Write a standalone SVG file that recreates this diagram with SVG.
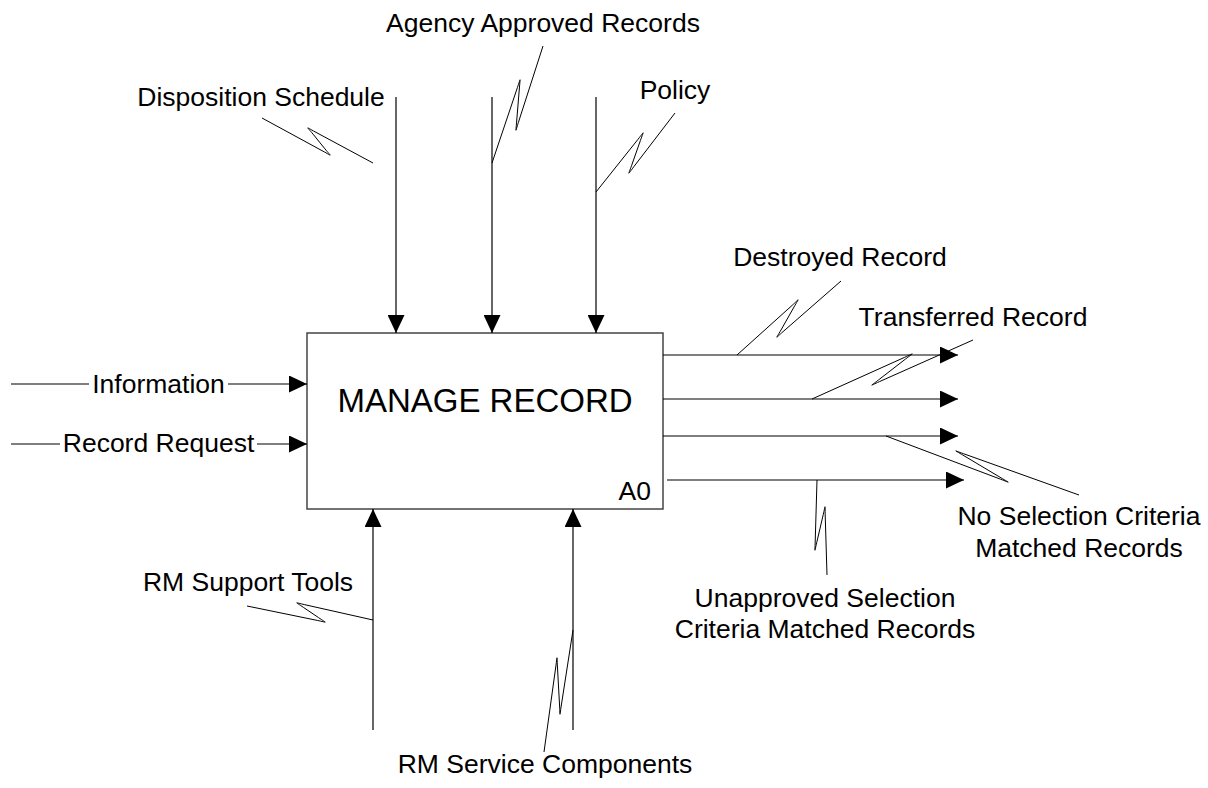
<svg xmlns="http://www.w3.org/2000/svg" width="1208" height="788" viewBox="0 0 1208 788">
<defs>
<marker id="ah" markerUnits="userSpaceOnUse" markerWidth="18" markerHeight="17" refX="18" refY="8.5" orient="auto">
<path d="M0,0 L18,8.5 L0,17 z" fill="#000"/>
</marker>
<style>
.lbl{font-family:"Liberation Sans",Arial,sans-serif;font-size:26.5px;fill:#000;text-anchor:middle}
.title{font-family:"Liberation Sans",Arial,sans-serif;font-size:33px;fill:#000;text-anchor:middle}
.arr{fill:none;stroke:#000;stroke-width:1.2;marker-end:url(#ah)}
.ln{fill:none;stroke:#000;stroke-width:1.2}
.sq{fill:none;stroke:#000;stroke-width:1;stroke-linejoin:round}
</style>
</defs>
<rect width="1208" height="788" fill="#fff"/>
<g id="node-a0">
<rect x="307" y="333" width="356" height="176" fill="#fff" stroke="#444" stroke-width="1.5"/>
<text class="title" x="485" y="412">MANAGE RECORD</text>
<text class="lbl" x="651" y="500" style="text-anchor:end">A0</text>
</g>
<g id="connectors">
<path class="ln" d="M11 384 H89"/>
<path class="arr" d="M228 384 H307"/>
<path class="ln" d="M11 444 H60"/>
<path class="arr" d="M257 444 H307"/>
<path class="arr" d="M396 97 V333"/>
<path class="arr" d="M492 97 V333"/>
<path class="arr" d="M596 97 V333"/>
<path class="arr" d="M373 730 V509"/>
<path class="arr" d="M573 730 V509"/>
<path class="arr" d="M663 355 H958"/>
<path class="arr" d="M663 399 H958"/>
<path class="arr" d="M663 436 H958"/>
<path class="arr" d="M667 480 H964"/>
</g>
<g id="squiggles">
<path class="sq" d="M262 118 L323 151.2 C332.6 156.4 331.9 157.3 324.9 148.8 L313.1 134.2 C306.1 125.7 305.4 126.6 315 131.8 L373 163"/>
<path class="sq" d="M543 46 L518.4 122.4 C515.1 132.9 515.8 133 516.6 122 L519.4 88 C520.2 77 521 77.2 517.4 87.6 L492 163"/>
<path class="sq" d="M675 113 L633.9 166.6 C627.2 175.4 628 175.8 631.6 165.5 L640.4 140.5 C644 130.2 644.9 130.7 638 139.3 L596 192"/>
<path class="sq" d="M737 355 L792.1 305.4 C800.2 298 799.5 297.4 794 307 L781 330 C775.5 339.6 774.7 339 783 331.7 L841 281"/>
<path class="sq" d="M812 399 L904.7 357.3 C914.7 352.8 914.4 352.2 905.7 358.9 L878.3 380.1 C869.6 386.8 869.3 386.2 879.3 381.7 L973 340"/>
<path class="sq" d="M886 436 L1000.5 479.2 C1010.8 483.1 1010.6 483.5 1001.1 477.9 L962.9 455.1 C953.4 449.5 953.2 450 963.5 453.7 L1079 495"/>
<path class="sq" d="M817 480 L815.2 542 C814.9 553 814.3 552.9 816.8 542.2 L823.2 514.8 C825.7 504.1 824.9 504 825.2 515 L827 575"/>
<path class="sq" d="M247 606 L317.2 620.4 C327.9 622.6 327.5 623.7 318.4 617.5 L303.6 607.5 C294.5 601.3 294.1 602.3 304.8 604.7 L373 620"/>
<path class="sq" d="M573 630 L561.2 706.1 C559.5 717 560.2 717 559.6 706 L557.4 666 C556.8 655 557.4 655 555.9 665.9 L544 752"/>
</g>
<g id="labels">
<text class="lbl" x="158.5" y="393">Information</text>
<text class="lbl" x="158.5" y="452">Record Request</text>
<text class="lbl" x="261" y="106">Disposition Schedule</text>
<text class="lbl" x="543" y="32">Agency Approved Records</text>
<text class="lbl" x="675" y="99">Policy</text>
<text class="lbl" x="840" y="266">Destroyed Record</text>
<text class="lbl" x="973" y="326">Transferred Record</text>
<text class="lbl" x="1079" y="525">No Selection Criteria</text>
<text class="lbl" x="1079" y="557">Matched Records</text>
<text class="lbl" x="825" y="607">Unapproved Selection</text>
<text class="lbl" x="825" y="638">Criteria Matched Records</text>
<text class="lbl" x="248" y="591">RM Support Tools</text>
<text class="lbl" x="545" y="773">RM Service Components</text>
</g>
</svg>
